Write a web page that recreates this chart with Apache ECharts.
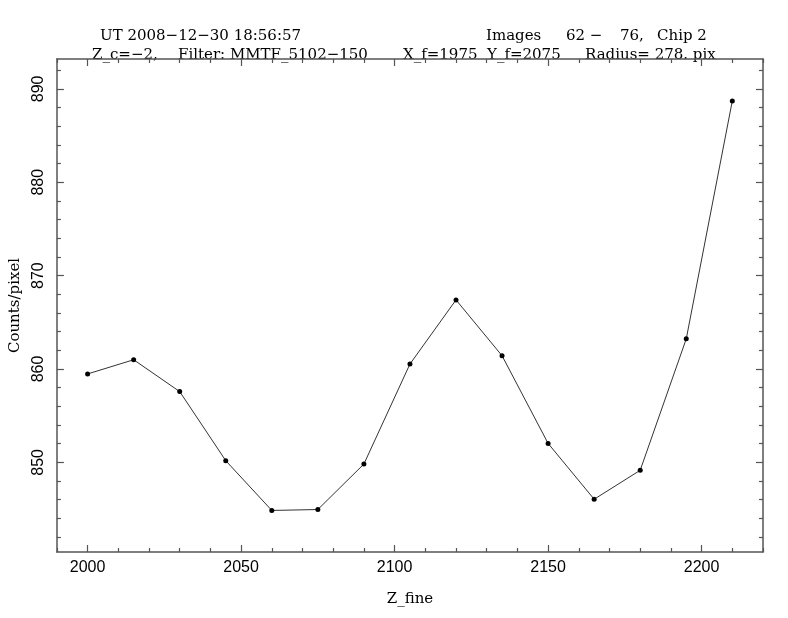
<!DOCTYPE html>
<html><head><meta charset="utf-8">
<script src="https://cdn.jsdelivr.net/npm/echarts@6/dist/echarts.min.js"></script>
<style>html,body{margin:0;padding:0;background:#fff}#c{width:788px;height:618px}</style>
</head><body><div id="c"></div>
<script>
// ---- data ----
const zFine = [2000, 2015, 2030, 2045, 2060, 2075, 2090, 2105, 2120, 2135, 2150, 2165, 2180, 2195, 2210];
const counts = [859.47, 860.99, 857.58, 850.18, 844.85, 844.95, 849.82, 860.53, 867.40, 861.42, 852.03, 846.05, 849.15, 863.23, 888.71];
const xMajorTicks = [2000, 2050, 2100, 2150, 2200];
const yMajorTicks = [850, 860, 870, 880, 890];
const xRange = [1990, 2220];
const yRange = [840.4, 893.2];
const xMinorStep = 10, yMinorStep = 2;
const xName = 'Z_fine', yName = 'Counts/pixel';
const titleLeft1 = 'UT 2008\u221212\u221230 18:56:57';
const titleLeft2a = 'Z_c=\u22122,', titleLeft2b = 'Filter: MMTF_5102\u2212150';
const titleRight1a = 'Images', titleRight1b = '62 \u2212', titleRight1c = '76,', titleRight1d = 'Chip 2';
const titleRight2a = 'X_f=1975', titleRight2b = 'Y_f=2075', titleRight2c = 'Radius= 278. pix';

function minorTicks(lo, hi, step, majors) {
  const out = [];
  for (let v = Math.ceil(lo / step) * step; v <= hi + 1e-9; v += step) {
    const r = Math.round(v * 100) / 100;
    if (!majors.includes(r)) out.push(r);
  }
  return out;
}
const xMinor = minorTicks(xRange[0], xRange[1], xMinorStep, xMajorTicks);
const yMinor = minorTicks(yRange[0], yRange[1], yMinorStep, yMajorTicks);

const frameColor = '#555';
const serif = '"DejaVu Serif", serif';
const sans = '"Liberation Sans", sans-serif';

function xAx(pos, ticks, len, labels, lineShow) {
  return {
    type: 'value', position: pos, min: xRange[0], max: xRange[1],
    axisLine: { show: lineShow, lineStyle: { color: frameColor, width: 1.5 } },
    axisTick: { show: true, inside: true, length: len, customValues: ticks, lineStyle: { color: frameColor, width: 1.2 } },
    axisLabel: labels ? { show: true, customValues: xMajorTicks, formatter: v => String(v), margin: 8, fontFamily: sans, fontSize: 16, color: '#000' } : { show: false },
    splitLine: { show: false }
  };
}
function yAx(pos, ticks, len, labels, lineShow) {
  return {
    type: 'value', position: pos, min: yRange[0], max: yRange[1],
    axisLine: { show: lineShow, lineStyle: { color: frameColor, width: 1.5 } },
    axisTick: { show: true, inside: true, length: len, customValues: ticks, lineStyle: { color: frameColor, width: 1.2 } },
    axisLabel: labels ? { show: true, customValues: yMajorTicks, formatter: v => String(v), rotate: 90, margin: 10, fontFamily: sans, fontSize: 16, color: '#000' } : { show: false },
    splitLine: { show: false }
  };
}

const xAxes = [
  Object.assign(xAx('bottom', xMajorTicks, 7, true, true), { name: xName, nameLocation: 'middle', nameGap: 40, nameTextStyle: { fontFamily: serif, fontSize: 15, color: '#000' } }),
  xAx('bottom', xMinor, 4, false, false),
  xAx('top', xMajorTicks, 7, false, true),
  xAx('top', xMinor, 4, false, false)
];
const yAxes = [
  Object.assign(yAx('left', yMajorTicks, 7, true, true), { name: yName, nameLocation: 'middle', nameGap: 29, nameRotate: 90, nameTextStyle: { fontFamily: serif, fontSize: 15, color: '#000' } }),
  yAx('left', yMinor, 4, false, false),
  yAx('right', yMajorTicks, 7, false, true),
  yAx('right', yMinor, 4, false, false)
];

function txt(s, x, y) {
  return { type: 'text', x: x, y: y, style: { text: s, fontFamily: serif, fontSize: 15, fill: '#000', textBaseline: 'alphabetic' } };
}

const chart = echarts.init(document.getElementById('c'), null, { renderer: 'canvas' });
chart.setOption({
  backgroundColor: '#fff',
  animation: false,
  grid: { left: 56, right: 25, top: 59, bottom: 66, containLabel: false },
  xAxis: xAxes,
  yAxis: yAxes,
  graphic: [
    txt(titleLeft1, 100, 29),
    txt(titleLeft2a, 92, 48),
    txt(titleLeft2b, 178, 48),
    txt(titleRight1a, 486, 29),
    txt(titleRight1b, 566, 29),
    txt(titleRight1c, 620, 29),
    txt(titleRight1d, 657, 29),
    txt(titleRight2a, 403, 48),
    txt(titleRight2b, 487, 48),
    txt(titleRight2c, 585, 48)
  ],
  series: [{
    type: 'line',
    data: zFine.map((z, i) => [z, counts[i]]),
    xAxisIndex: 0, yAxisIndex: 0,
    symbol: 'circle', symbolSize: 5,
    itemStyle: { color: '#000' },
    lineStyle: { color: '#333', width: 1 }
  }]
});
</script></body></html>
